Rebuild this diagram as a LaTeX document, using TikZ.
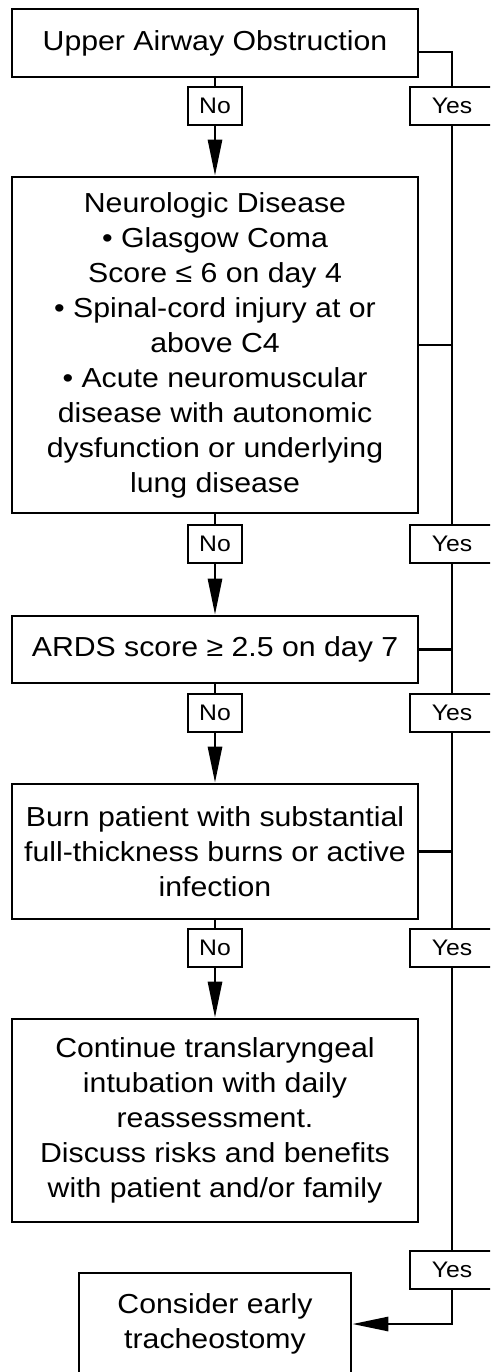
\documentclass[tikz,border=0pt]{standalone}
\usepackage{fontspec}
\setmainfont{Liberation Sans}[FakeStretch=1.1]
\usetikzlibrary{arrows.meta}
\begin{document}
\begin{tikzpicture}[x=1pt,y=-1pt,
  box/.style={draw, line width=2.6pt, rectangle, minimum width=406pt, align=center, inner sep=0pt, font=\fontsize{27.5}{35}\selectfont},
  lbl/.style={draw, line width=2.4pt, rectangle, minimum height=38pt, inner sep=0pt, font=\fontsize{22.5}{25}\selectfont, fill=white},
  nolbl/.style={lbl, minimum width=54pt},
  yeslbl/.style={lbl, minimum width=84pt},
  conn/.style={line width=2.8pt},
  arr/.style={conn, -{Triangle[length=36pt,width=14pt]}},
]
\useasboundingbox (0,0) rectangle (490,1372);
\clip (0,0) rectangle (490,1372);
\fill[white] (0,0) rectangle (490,1372);

\node[box, minimum height=68pt] (b1) at (215,43) {Upper Airway Obstruction};
\node[box, minimum height=336pt] (b2) at (215,345) {Neurologic Disease\\• Glasgow Coma\\Score ≤ 6 on day 4\\• Spinal-cord injury at or\\above C4\\• Acute neuromuscular\\disease with autonomic\\dysfunction or underlying\\lung disease};
\node[box, minimum height=67pt] (b3) at (215,649.5) {ARDS score ≥ 2.5 on day 7};
\node[box, minimum height=135pt] (b4) at (215,851.5) {Burn patient with substantial\\full-thickness burns or active\\infection};
\node[box, minimum height=203pt] (b5) at (215,1120.5) {Continue translaryngeal\\intubation with daily\\reassessment.\\Discuss risks and benefits\\with patient and/or family};
\node[box, minimum width=272pt, minimum height=102pt] (b6) at (215,1324) {Consider early\\tracheostomy};

\node[nolbl] (n1) at (215,106) {No};
\node[nolbl] (n2) at (215,544) {No};
\node[nolbl] (n3) at (215,713) {No};
\node[nolbl] (n4) at (215,948) {No};

\node[yeslbl] (y1) at (452,106) {Yes};
\node[yeslbl] (y2) at (452,544) {Yes};
\node[yeslbl] (y3) at (452,713) {Yes};
\node[yeslbl] (y4) at (452,948) {Yes};
\node[yeslbl] (y5) at (452,1270) {Yes};

\draw[conn] (b1.south) -- (n1.north);
\draw[arr] (n1.south) -- (b2.north);
\draw[conn] (b2.south) -- (n2.north);
\draw[arr] (n2.south) -- (b3.north);
\draw[conn] (b3.south) -- (n3.north);
\draw[arr] (n3.south) -- (b4.north);
\draw[conn] (b4.south) -- (n4.north);
\draw[arr] (n4.south) -- (b5.north);

\draw[conn] ([yshift=-9pt]b1.east) -| (y1.north);
\draw[conn] (y1.south) -- (y2.north);
\draw[conn] (y2.south) -- (y3.north);
\draw[conn] (y3.south) -- (y4.north);
\draw[conn] (y4.south) -- (y5.north);
\draw[conn] (b2.east) -- (b2.east -| y1.south);
\draw[conn] (b3.east) -- (b3.east -| y1.south);
\draw[conn] (b4.east) -- (b4.east -| y1.south);
\draw[arr] (y5.south) |- (b6.east);
\end{tikzpicture}
\end{document}
